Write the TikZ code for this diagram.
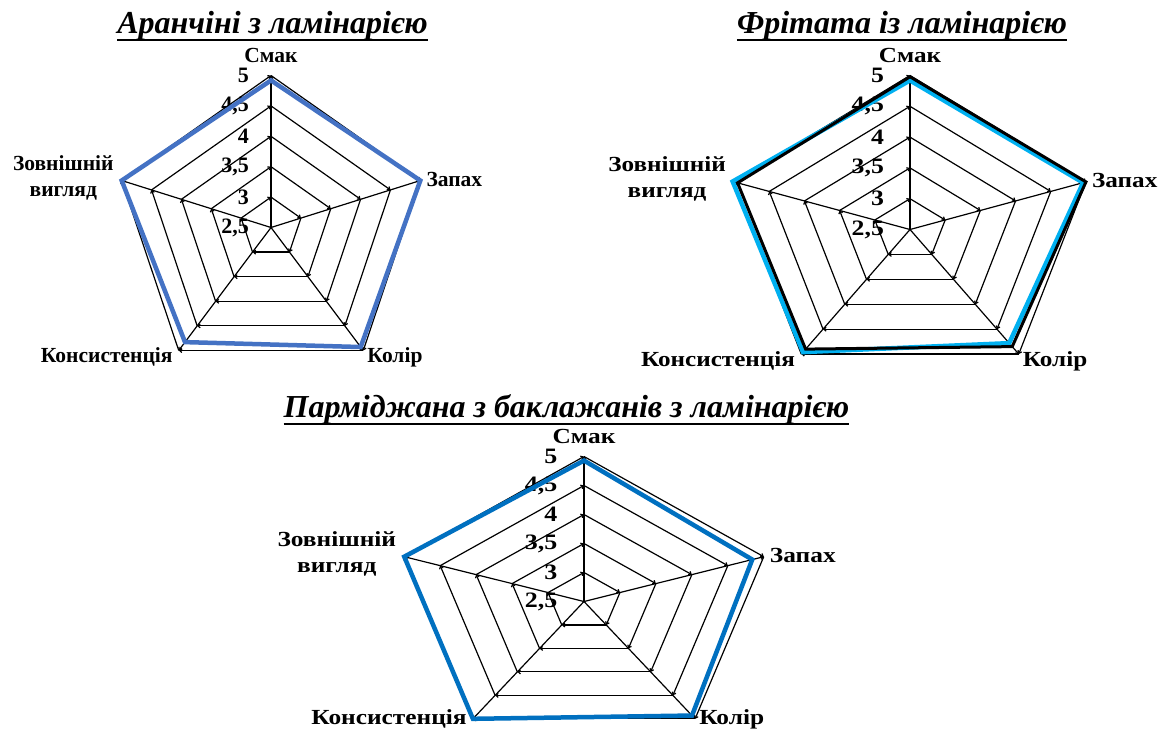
\documentclass[tikz,border=0pt]{standalone}
\usepackage{fontspec}
\setmainfont{Liberation Serif}
\usetikzlibrary{arrows.meta,calc}
\definecolor{serA}{HTML}{4472C4}
\definecolor{serB}{HTML}{00B0F0}
\definecolor{serC}{HTML}{0070C0}
\tikzset{
  gridln/.style={line width=1.2pt, black, -{Straight Barb[length=2.2pt,width=4pt]}},
  axlab/.style={font=\bfseries\fontsize{21.5}{26}\selectfont, inner sep=0pt},
  numlab/.style={font=\bfseries\fontsize{22}{22}\selectfont, inner sep=0pt, anchor=east},
  ttl/.style={font=\bfseries\itshape\fontsize{32}{34}\selectfont, inner sep=0pt, anchor=base},
  uline/.style={line width=2pt, black},
  serline/.style={line width=4.5pt, line join=miter},
}
% #1 prefix, #2 cx, #3 cy, #4 Rx, #5 Ry, #6 baseline drop of bottom labels, #7 text xscale
\newcommand\radarchart[7]{%
\begin{scope}[shift={(#2,#3)}, x=#4pt, y=#5pt]
  \coordinate (#1c) at (0,0);
  \foreach \k/\a in {0/90,1/18,2/-54,3/-126,4/162}{
    \foreach \i in {1,...,5}{
      \coordinate (#1p\i-\k) at ({cos(\a)*\i/5},{sin(\a)*\i/5});
    }
  }
  \foreach \k in {0,...,4}{\draw[gridln] (#1c) -- (#1p5-\k);}
  \foreach \i in {1,...,5}{
    \foreach \k [evaluate=\k as \n using {int(mod(\k+1,5))}] in {0,...,4}{
      \draw[gridln] (#1p\i-\k) -- (#1p\i-\n);
    }
  }
  \pgfmathsetmacro\off{0.14*#4}
  \node[numlab, xscale=#7] (#1n0) at ([xshift=-\off pt]#1c) {2,5};
  \node[numlab, xscale=#7] (#1n1) at ([xshift=-\off pt]#1p1-0) {3};
  \node[numlab, xscale=#7] (#1n2) at ([xshift=-\off pt]#1p2-0) {3,5};
  \node[numlab, xscale=#7] (#1n3) at ([xshift=-\off pt]#1p3-0) {4};
  \node[numlab, xscale=#7] (#1n4) at ([xshift=-\off pt]#1p4-0) {4,5};
  \node[numlab, xscale=#7] (#1n5) at ([xshift=-\off pt]#1p5-0) {5};
  \node[axlab, anchor=base, xscale=#7] (#1l0) at ([yshift=13pt]#1p5-0) {Смак};
  \node[axlab, anchor=west, xscale=#7] (#1l1) at ([xshift=6pt,yshift=1pt]#1p5-1) {Запах};
  \node[axlab, anchor=base west, xscale=#7] (#1l2) at ([xshift=4pt,yshift=-#6pt]#1p5-2) {Колір};
  \node[axlab, anchor=base east, xscale=#7] (#1l3) at ([xshift=-6pt,yshift=-#6pt]#1p5-3) {Консистенція};
  \node[axlab, anchor=east, align=center, xscale=#7] (#1l4) at ([xshift=-8pt,yshift=3pt]#1p5-4) {Зовнішній\\вигляд};
\end{scope}}
% #1 prefix, #2 style, #3..#7 values
\newcommand\series[7]{%
  \draw[#2] ($(#1c)!{(#3-2.5)/2.5}!(#1p5-0)$) -- ($(#1c)!{(#4-2.5)/2.5}!(#1p5-1)$)
    -- ($(#1c)!{(#5-2.5)/2.5}!(#1p5-2)$) -- ($(#1c)!{(#6-2.5)/2.5}!(#1p5-3)$)
    -- ($(#1c)!{(#7-2.5)/2.5}!(#1p5-4)$) -- cycle;}
\begin{document}
\begin{tikzpicture}[x=1pt, y=-1pt]
\useasboundingbox[fill=white] (0,0) rectangle (1165,731);
% titles
\node[ttl] (t1) at (272.5,33) {Аранчіні з ламінарією};
\draw[uline] ([yshift=-7pt]t1.base west) -- ([yshift=-7pt]t1.base east);
\node[ttl] (t2) at (902,33) {Фрітата із ламінарією};
\draw[uline] ([yshift=-7pt]t2.base west) -- ([yshift=-7pt]t2.base east);
\node[ttl] (t3) at (566.5,417) {Парміджана з баклажанів з ламінарією};
\draw[uline] ([yshift=-7pt]t3.base west) -- ([yshift=-7pt]t3.base east);
% charts
\radarchart{a}{271}{227.5}{157}{152}{12}{1}
\series{a}{serline, serA}{4.92}{5.0}{4.93}{4.83}{5.0}
\radarchart{b}{910}{229.5}{185}{154}{12}{1.17}
\series{b}{serline, serB}{4.92}{4.96}{4.78}{4.96}{5.02}
\series{b}{serline, line width=3pt, black}{4.98}{5.0}{4.85}{4.9}{4.95}
\radarchart{c}{584}{601.5}{189}{145}{6}{1.18}
\series{c}{serline, serC}{4.93}{4.84}{4.93}{5.0}{5.0}
\end{tikzpicture}
\end{document}
